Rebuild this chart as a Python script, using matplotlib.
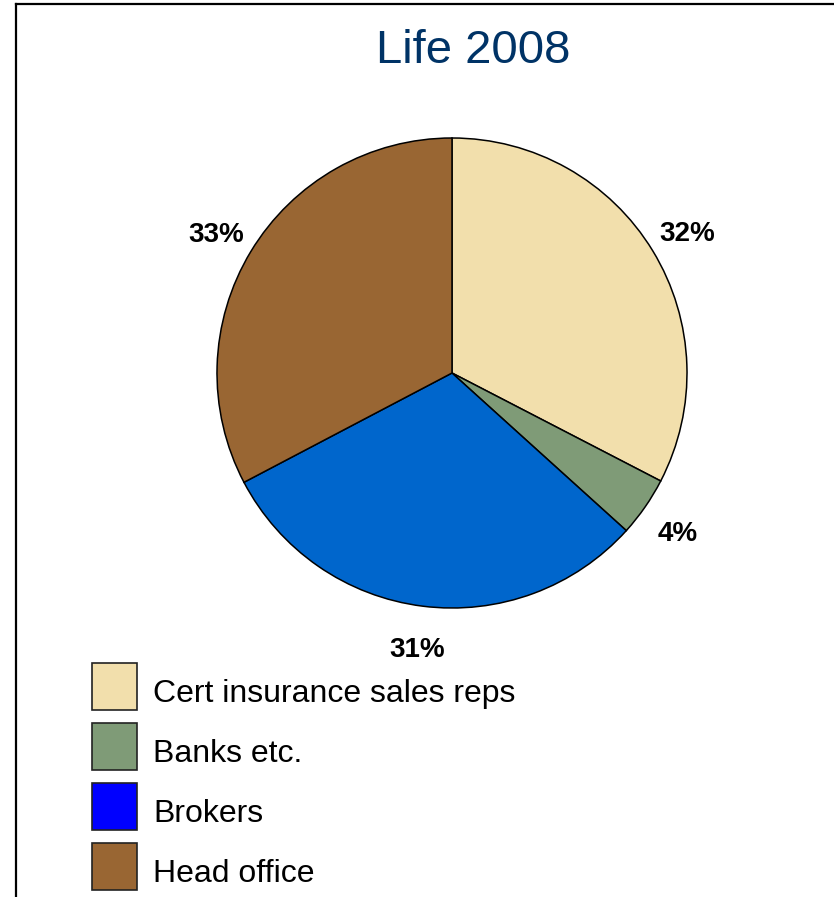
import matplotlib.pyplot as plt
from matplotlib.patches import Rectangle
from matplotlib.lines import Line2D

plt.rcParams['font.family'] = ['Liberation Sans', 'DejaVu Sans']

# datos del gráfico
categories = ['Cert insurance sales reps', 'Banks etc.', 'Brokers', 'Head office']
shares = [32.6, 4.1, 30.6, 32.7]
pct_labels = ['32%', '4%', '31%', '33%']
slice_colors = ['#F2DFAC', '#7F9B77', '#0066CC', '#996633']
legend_colors = ['#F2DFAC', '#7F9B77', '#0000FF', '#996633']

W, H = 834, 897
fig = plt.figure(figsize=(W / 100, H / 100), dpi=100)

# marco (solo izquierda y arriba)
fig.add_artist(Line2D([16 / W, 16 / W], [0, 1 - 4.5 / H], color='black', lw=1.6))
fig.add_artist(Line2D([16 / W, 1], [1 - 4.5 / H, 1 - 4.5 / H], color='black', lw=1.6))

fig.text(473 / W, 1 - 63 / H, 'Life 2008', fontsize=34, color='#003366',
         ha='center', va='baseline')

# pastel
cx, cy, r = 452, 373, 235
ax = fig.add_axes([(cx - r) / W, 1 - (cy + r) / H, 2 * r / W, 2 * r / H])
wedges, texts = ax.pie(shares, colors=slice_colors, labels=pct_labels,
                       startangle=90, counterclock=False, labeldistance=1.17,
                       wedgeprops=dict(edgecolor='black', linewidth=1.1))
for t in texts:
    x, y = t.get_position()
    t.set_position((x, y - 4 / r))
    t.set_ha('center')
    t.set_va('center')
    t.set_fontsize(20)
    t.set_fontweight('bold')
ax.set_xlim(-1, 1)
ax.set_ylim(-1, 1)
ax.set_aspect('equal')
ax.axis('off')

# leyenda manual
for i, (lab, col) in enumerate(zip(categories, legend_colors)):
    top = 663 + i * 60
    fig.add_artist(Rectangle((92 / W, 1 - (top + 47) / H), 45 / W, 47 / H,
                             facecolor=col, edgecolor='#222222', lw=1.2,
                             transform=fig.transFigure))
    fig.text(153 / W, 1 - (top + 39) / H, lab, fontsize=23,
             ha='left', va='baseline')

fig.savefig('out.png', dpi=100)
